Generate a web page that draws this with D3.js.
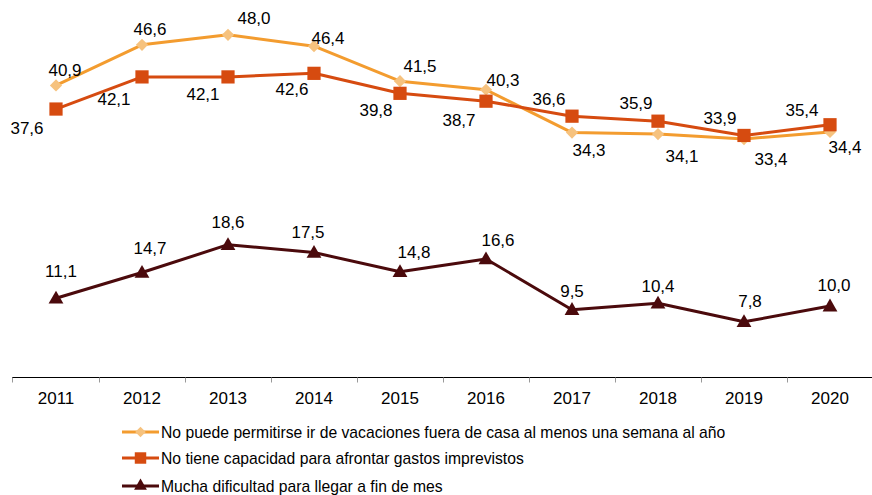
<!DOCTYPE html>
<html>
<head>
<meta charset="utf-8">
<script src="https://cdn.jsdelivr.net/npm/d3@7"></script>
<style>
  html, body { margin: 0; padding: 0; background: #fff; }
  svg { display: block; }
  text { font-family: "Liberation Sans", Arial, sans-serif; fill: #000; }
</style>
</head>
<body>
<svg id="chart" width="872" height="495"></svg>
<script>
const years = ["2011","2012","2013","2014","2015","2016","2017","2018","2019","2020"];
const vacaciones = [40.9, 46.6, 48.0, 46.4, 41.5, 40.3, 34.3, 34.1, 33.4, 34.4];
const imprevistos = [37.6, 42.1, 42.1, 42.6, 39.8, 38.7, 36.6, 35.9, 33.9, 35.4];
const finDeMes = [11.1, 14.7, 18.6, 17.5, 14.8, 16.6, 9.5, 10.4, 7.8, 10.0];
const seriesNames = [
  "No puede permitirse ir de vacaciones fuera de casa al menos una semana al año",
  "No tiene capacidad para afrontar gastos imprevistos",
  "Mucha dificultad para llegar a fin de mes"
];
// label offsets (dx, dy) relative to the point
const offVac = [[9,-15],[8,-16],[26,-17],[14,-8],[20,-15],[17,-10],[17,17],[24,22],[27,20],[15,15]];
const offImp = [[-29,19],[-28,22],[-25,17],[-22,16],[-24,17],[-27,19],[-23,-17],[-22,-18],[-24,-17],[-28,-15]];
const offFin = [[5,-27],[8,-24],[0,-23],[-6,-21],[14,-20],[12,-19],[0,-19],[0,-17],[6,-21],[4,-21]];

const svg = d3.select("#chart");
const x = d3.scaleBand().domain(years).range([13, 873]);
const y = d3.scaleLinear().domain([0, 50]).range([377.5, 20.5]);
const cx = d => x(d) + x.bandwidth() / 2;

// axis
const axisG = svg.append("g").attr("transform", "translate(0,377.5)");
axisG.append("line").attr("x1", 12).attr("x2", 872).attr("stroke", "#000").attr("stroke-width", 1);
axisG.selectAll("line.tick").data(years.slice(1)).enter().append("line")
  .attr("class", "tick")
  .attr("x1", d => Math.round(x(d)) + 0.5).attr("x2", d => Math.round(x(d)) + 0.5)
  .attr("y1", 0).attr("y2", 5).attr("stroke", "#999").attr("stroke-width", 1);
axisG.append("line").attr("x1", 12.5).attr("x2", 12.5).attr("y1", 0).attr("y2", 5).attr("stroke", "#999");
axisG.selectAll("text").data(years).enter().append("text")
  .attr("x", d => cx(d)).attr("y", 26).attr("text-anchor", "middle")
  .style("font-size", "17px").text(d => d);

const fmt = v => v.toFixed(1).replace(".", ",");

const series = [
  { vals: vacaciones, line: "#F39C2F", marker: "#F6C27E", sym: d3.symbolDiamond2, size: 95, off: offVac },
  { vals: imprevistos, line: "#D64B10", marker: "#D64B10", sym: d3.symbolSquare, size: 175, off: offImp },
  { vals: finDeMes, line: "#4B0A0C", marker: "#4B0A0C", sym: d3.symbolTriangle, size: 95, off: offFin }
];

const lineGen = d3.line().x((d, i) => cx(years[i])).y(d => y(d));

series.forEach(s => {
  svg.append("path").datum(s.vals).attr("d", lineGen)
    .attr("fill", "none").attr("stroke", s.line).attr("stroke-width", 3).attr("stroke-linejoin", "round");
});
series.forEach(s => {
  const sym = d3.symbol().type(s.sym).size(s.size);
  svg.selectAll(null).data(s.vals).enter().append("path")
    .attr("d", sym)
    .attr("transform", (d, i) => `translate(${cx(years[i])},${y(d) + (s.sym === d3.symbolTriangle ? 1 : 0)})`)
    .attr("fill", s.marker);
});
series.forEach(s => {
  svg.selectAll(null).data(s.vals).enter().append("text")
    .attr("x", (d, i) => cx(years[i]) + s.off[i][0])
    .attr("y", (d, i) => y(d) + s.off[i][1])
    .attr("dy", "0.35em").attr("text-anchor", "middle")
    .style("font-size", "17px").text(d => fmt(d));
});

// legend
const legY = [432, 458, 486];
series.forEach((s, i) => {
  const g = svg.append("g").attr("transform", `translate(0,${legY[i]})`);
  g.append("line").attr("x1", 122).attr("x2", 159).attr("y1", 0).attr("y2", 0)
    .attr("stroke", s.line).attr("stroke-width", 3);
  g.append("path").attr("d", d3.symbol().type(s.sym).size(s.size * 0.75)).attr("transform", "translate(140.5,0)")
    .attr("fill", s.marker);
  g.append("text").attr("x", 161).attr("y", 0).attr("dy", "0.35em")
    .style("font-size", "15.7px").text(seriesNames[i]);
});
</script>
</body>
</html>
